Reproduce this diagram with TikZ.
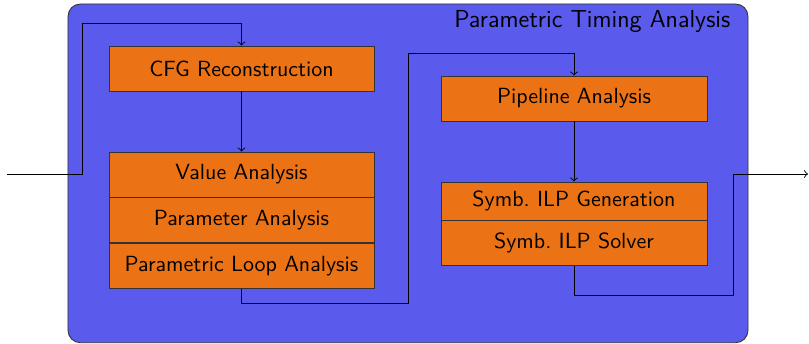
\documentclass[tikz,border=0pt]{standalone}
\usepackage{tikz}
\usetikzlibrary{positioning}
\definecolor{ptablue}{RGB}{90,90,236}
\definecolor{ptaorange}{RGB}{236,114,22}

\begin{document}
\begin{tikzpicture}[
    font=\sffamily,
    stage/.style={draw=black!80, fill=ptaorange, minimum width=4.24cm, minimum height=0.72cm, inner sep=0pt},
    frame/.style={draw=black!80, fill=ptablue, rounded corners=0.2cm, minimum width=10.88cm, minimum height=5.42cm},
    flow/.style={->, black}
]
\useasboundingbox (0,0) rectangle (12.944,5.504);

% Rahmen
\node[frame] (pta) at (6.528, 2.73) {};
\node[anchor=east, font=\sffamily\fontsize{11.2}{13}\selectfont] (title) at (11.81, 5.16) {Parametric Timing Analysis};

% linke Spalte
\node[stage] (cfg) at (3.864, 4.408) {CFG Reconstruction};
\node[stage] (val) at (3.864, 2.712) {Value Analysis};
\node[stage, below=0pt of val] (par) {Parameter Analysis};
\node[stage, below=0pt of par] (loop) {Parametric Loop Analysis};

% rechte Spalte
\node[stage, minimum width=4.256cm] (pipe) at (9.184, 3.928) {Pipeline Analysis};
\node[stage, minimum width=4.256cm, minimum height=0.608cm] (gen) at (9.184, 2.288) {Symb.\ ILP Generation};
\node[stage, minimum width=4.256cm, below=0pt of gen] (solver) {Symb.\ ILP Solver};

% Ein- und Ausgang
\coordinate (in) at (0.112, 2.72);
\coordinate (out) at (12.928, 2.72);

% Verbindungen
\draw[flow] (in) -| (1.312, 5.136) -| (cfg.north);
\draw[flow] (cfg.south) -- (val.north);
\draw[flow] (loop.south) |- (6.528, 0.656) -- (6.528, 4.656) -| (pipe.north);
\draw[flow] (pipe.south) -- (gen.north);
\draw[flow] (solver.south) |- (11.728, 0.784) -- (11.728, 2.72) -- (out);

\end{tikzpicture}
\end{document}
